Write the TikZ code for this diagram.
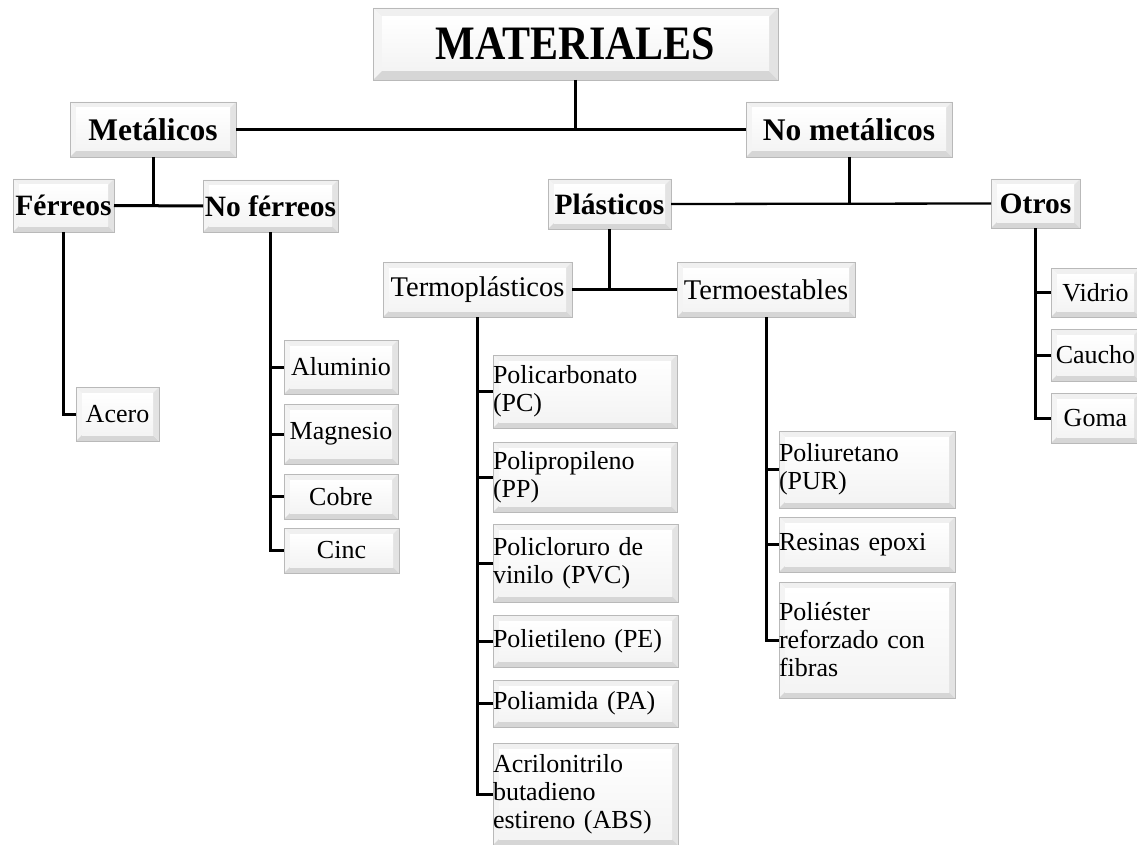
\documentclass[tikz,border=0pt]{standalone}
\usepackage{fontspec}
\setmainfont{Liberation Serif}
\newfontfamily\titlefam[FakeStretch=0.875]{Liberation Serif}
\newcommand\ftitle{\titlefam\fontsize{48}{54}\selectfont\bfseries}
\newcommand\fone{\fontsize{31.5}{36}\selectfont\bfseries}
\newcommand\ftwo{\fontsize{29.5}{34}\selectfont\bfseries}
\newcommand\fthree{\fontsize{28.5}{32}\selectfont}
\newcommand\fleaf{\fontsize{26}{28}\selectfont}
\newcommand\bevelpic[1]{%
  \def\bw{#1pt}%
  \path (path picture bounding box.north west) coordinate (bNW)
        (path picture bounding box.north east) coordinate (bNE)
        (path picture bounding box.south west) coordinate (bSW)
        (path picture bounding box.south east) coordinate (bSE);
  \fill[gray!12] (bNW) -- (bNE) -- ([shift={(-\bw,-\bw)}]bNE) -- ([shift={(\bw,-\bw)}]bNW) -- cycle;
  \fill[gray!9] (bNW) -- ([shift={(\bw,-\bw)}]bNW) -- ([shift={(\bw,\bw)}]bSW) -- (bSW) -- cycle;
  \fill[gray!32] (bSW) -- ([shift={(\bw,\bw)}]bSW) -- ([shift={(-\bw,\bw)}]bSE) -- (bSE) -- cycle;
  \fill[gray!22] (bSE) -- ([shift={(-\bw,\bw)}]bSE) -- ([shift={(-\bw,-\bw)}]bNE) -- (bNE) -- cycle;
  \shade[top color=white, bottom color=gray!9] ([shift={(\bw,-\bw)}]bNW) rectangle ([shift={(-\bw,\bw)}]bSE);
}
\tikzset{
  bev/.style={draw=gray!55, line width=0.8pt, fill=gray!5, inner sep=0pt, outer sep=0pt,
    path picture={\bevelpic{#1}}},
  bev/.default=6,
  leftbox/.style={bev, align=left, font=\fleaf},
  ctrbox/.style={bev, align=center, font=\fleaf},
  conn/.style={draw=black, line width=3pt},
  thin/.style={draw=black, line width=2.3pt},
}
\begin{document}
\begin{tikzpicture}[x=1pt,y=-1pt]
\useasboundingbox (0,0) rectangle (1137,845);
% level 0
\node[bev=9, font=\ftitle, minimum width=405pt, minimum height=72pt] (mat) at (575.5,44) {MATERIALES};
% level 1
\node[bev, font=\fone, minimum width=166pt, minimum height=55pt] (met) at (153,129.5) {Metálicos};
\node[bev, font=\fone, minimum width=206pt, minimum height=55pt] (nomet) at (849,129.5) {No metálicos};
% level 2
\node[bev, font=\ftwo, minimum width=101pt, minimum height=53pt] (fer) at (63.5,205.5) {Férreos};
\node[bev, font=\ftwo, minimum width=135pt, minimum height=52pt] (nofer) at (270.5,206) {No férreos};
\node[bev, font=\ftwo, minimum width=123pt, minimum height=50pt] (pla) at (609.5,204) {Plásticos};
\node[bev, font=\ftwo, minimum width=89pt, minimum height=49pt] (otr) at (1035.5,203.5) {Otros};
% level 3
\node[bev, font=\fthree, minimum width=189pt, minimum height=55pt] (tp) at (477.5,289.5) {Termoplásticos};
\node[bev, font=\fthree, minimum width=178pt, minimum height=55pt] (te) at (766,289.5) {Termoestables};
% metal leaves
\node[ctrbox, minimum width=83pt, minimum height=54pt] (ace) at (117.5,414) {Acero};
\node[ctrbox, minimum width=114pt, minimum height=54pt] (alu) at (341,367) {Aluminio};
\node[ctrbox, minimum width=114pt, minimum height=60pt] (mag) at (341,434) {Magnesio};
\node[ctrbox, minimum width=114pt, minimum height=45pt] (cob) at (341,496.5) {Cobre};
\node[ctrbox, minimum width=115pt, minimum height=45pt] (cinc) at (341.5,550.5) {Cinc};
% termoplasticos
\node[leftbox, text width=184pt, minimum height=73pt] (pc) at (585,391.5) {Policarbonato\\(PC)};
\node[leftbox, text width=184pt, minimum height=70pt] (pp) at (585,477) {Polipropileno\\(PP)};
\node[leftbox, text width=185pt, minimum height=78pt] (pvc) at (585.5,563) {Policloruro de\\vinilo (PVC)};
\node[leftbox, text width=185pt, minimum height=52pt] (pe) at (585.5,641) {Polietileno (PE)};
\node[leftbox, text width=185pt, minimum height=47pt] (pa) at (585.5,703.5) {Poliamida (PA)};
\node[leftbox, text width=185pt, minimum height=102pt] (abs) at (585.5,794) {Acrilonitrilo\\butadieno\\estireno (ABS)};
% termoestables
\node[leftbox, text width=176pt, minimum height=77pt] (pur) at (867,469.5) {Poliuretano\\(PUR)};
\node[leftbox, text width=176pt, minimum height=55pt] (res) at (867,544.5) {Resinas epoxi};
\node[leftbox, text width=176pt, minimum height=116pt] (pol) at (867,640) {Poliéster\\reforzado con\\fibras};
% otros
\node[ctrbox, minimum width=89pt, minimum height=49pt] (vid) at (1095.5,292.5) {Vidrio};
\node[ctrbox, minimum width=89pt, minimum height=52pt] (cau) at (1095.5,355) {Caucho};
\node[ctrbox, minimum width=89pt, minimum height=50pt] (gom) at (1095.5,418) {Goma};
% connectors
\draw[thin] (mat.south) -- (mat.south |- met.east);
\draw[thin] (met.east) -- (nomet.west);
\draw[conn] (met.south) -- (met.south |- fer.east);
\draw[conn] (fer.east) -- (nofer.west);
\draw[conn] (nomet.south) -- (nomet.south |- pla.east);
\draw[thin] (pla.east) -- (otr.west);
\draw[conn] (pla.south) -- (pla.south |- tp.east);
\draw[conn] (tp.east) -- (te.west);
\draw[conn] (fer.south) -- (fer.south |- ace.west) -- (ace.west);
\draw[conn] (nofer.south) -- (nofer.south |- cinc.west) -- (cinc.west);
\foreach \n in {alu,mag,cob} \draw[conn] (nofer.south |- \n.west) -- (\n.west);
\draw[conn] (tp.south) -- (tp.south |- abs.west) -- (abs.west);
\foreach \n in {pc,pp,pvc,pe,pa} \draw[conn] (tp.south |- \n.west) -- (\n.west);
\draw[conn] (te.south) -- (te.south |- pol.west) -- (pol.west);
\foreach \n in {pur,res} \draw[conn] (te.south |- \n.west) -- (\n.west);
\draw[conn] (otr.south) -- (otr.south |- gom.west) -- (gom.west);
\foreach \n in {vid,cau} \draw[conn] (otr.south |- \n.west) -- (\n.west);
\end{tikzpicture}
\end{document}
